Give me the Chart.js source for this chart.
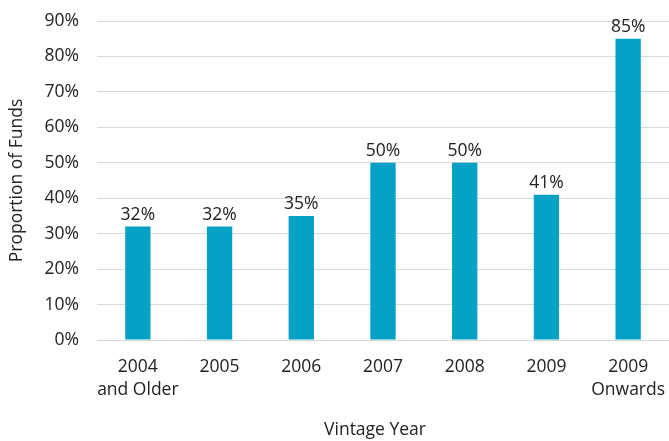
<!DOCTYPE html>
<html>
<head>
<meta charset="utf-8">
<script src="https://cdn.jsdelivr.net/npm/chart.js@4/dist/chart.umd.min.js"></script>
<style>
  html, body { margin: 0; padding: 0; background: #ffffff; }
  #wrap { width: 669px; height: 441px; position: relative; }
</style>
</head>
<body>
<div id="wrap"><canvas id="chart" width="669" height="441"></canvas></div>
<script>
// Share of funds by vintage year
const categories = [
  ['2004', 'and Older'],
  '2005',
  '2006',
  '2007',
  '2008',
  '2009',
  ['2009', 'Onwards']
];
const proportions = [32, 32, 35, 50, 50, 41, 85];
const yTicks = [0, 10, 20, 30, 40, 50, 60, 70, 80, 90];
const xTitle = 'Vintage Year';
const yTitle = 'Proportion of Funds';

const FONT = '"Open Sans", "Noto Sans", sans-serif';
const SIZE = 17.5;
const TEXT = '#222222';
const BAR = '#05a2c6';

// Writes each bar's value above it, and the category axis caption
const annotations = {
  id: 'annotations',
  afterDatasetsDraw(chart) {
    const ctx = chart.ctx;
    const meta = chart.getDatasetMeta(0);
    ctx.save();
    ctx.font = SIZE + 'px ' + FONT;
    ctx.fillStyle = TEXT;
    ctx.textAlign = 'center';
    ctx.textBaseline = 'alphabetic';
    meta.data.forEach((bar, i) => {
      ctx.fillText(proportions[i] + '%', bar.x, bar.y - 7);
    });
    // caption sits slightly left of the plot centre
    const area = chart.chartArea;
    ctx.textBaseline = 'middle';
    ctx.fillText(xTitle, (area.left + area.right) / 2 - 8, chart.height - 11);
    ctx.restore();
  }
};

new Chart(document.getElementById('chart'), {
  type: 'bar',
  data: {
    labels: categories,
    datasets: [{
      data: proportions,
      backgroundColor: BAR,
      borderWidth: 0,
      barPercentage: 0.31,
      categoryPercentage: 1
    }]
  },
  options: {
    responsive: false,
    animation: false,
    layout: { padding: { top: 21, right: 0, left: 0, bottom: 0 } },
    plugins: { legend: { display: false }, tooltip: { enabled: false } },
    scales: {
      x: {
        grid: { display: false, drawTicks: false },
        border: { display: false },
        ticks: {
          color: TEXT,
          font: { family: FONT, size: SIZE, lineHeight: 1.32 },
          padding: 15,
          maxRotation: 0,
          autoSkip: false
        },
        afterFit(scale) {
          scale.height = 101;
          scale.paddingLeft = 0;
          scale.paddingRight = 0;
        }
      },
      y: {
        min: 0,
        max: 90,
        afterBuildTicks(scale) { scale.ticks = yTicks.map(v => ({ value: v })); },
        grid: { color: '#d9d9d9', lineWidth: 1, drawTicks: false },
        border: { display: false },
        ticks: {
          color: TEXT,
          font: { family: FONT, size: SIZE },
          padding: 18,
          callback: v => v + '%'
        },
        title: {
          display: true,
          text: yTitle,
          color: TEXT,
          font: { family: FONT, size: SIZE },
          padding: { top: 7, bottom: 6 }
        },
        afterFit(scale) {
          scale.width = 97;
          scale.paddingTop = 0;
          scale.paddingBottom = 0;
        }
      }
    }
  },
  plugins: [annotations]
});
</script>
</body>
</html>
